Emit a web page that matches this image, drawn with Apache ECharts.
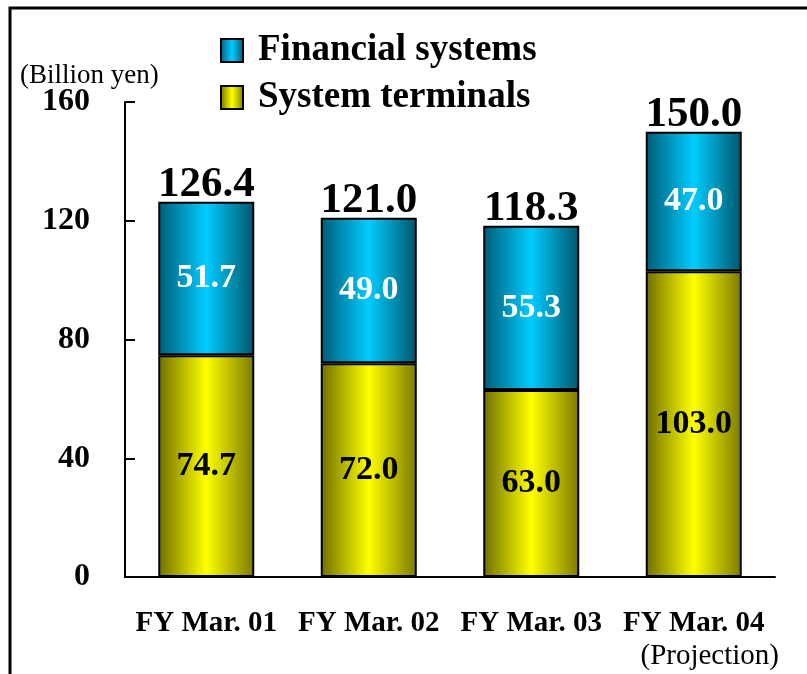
<!DOCTYPE html>
<html>
<head>
<meta charset="utf-8">
<script src="https://cdn.jsdelivr.net/npm/echarts@6/dist/echarts.min.js"></script>
<style>
html,body{margin:0;padding:0;background:#fff;}
#main{width:807px;height:674px;}
</style>
</head>
<body>
<div id="main"></div>
<script>
// data
var years = ['FY Mar. 01', 'FY Mar. 02', 'FY Mar. 03', 'FY Mar. 04'];
var terminals = [74.7, 72.0, 63.0, 103.0];   // System terminals
var financial = [51.7, 49.0, 55.3, 47.0];    // Financial systems
var totals = [126.4, 121.0, 118.3, 150.0];
var yTicks = [0, 40, 80, 120, 160];

var serif = '"Liberation Serif", "Times New Roman", serif';

// cylinder-like shading
var blueFill = new echarts.graphic.LinearGradient(0, 0, 1, 0, [
	{offset: 0, color: '#005b78'},
	{offset: 0.5, color: '#00ccff'},
	{offset: 1, color: '#00566a'}
]);
var yellowFill = new echarts.graphic.LinearGradient(0, 0, 1, 0, [
	{offset: 0, color: '#6e6e00'},
	{offset: 0.5, color: '#ffff00'},
	{offset: 1, color: '#7a7a00'}
]);

var chart = echarts.init(document.getElementById('main'));

var option = {
	animation: false,
	textStyle: {fontFamily: serif},
	title: {
		text: '(Billion yen)',
		left: 15,
		top: 57,
		textStyle: {fontFamily: serif, fontWeight: 'normal', fontSize: 27, color: '#000'}
	},
	legend: {
		orient: 'vertical',
		left: 215,
		top: 27,
		icon: 'rect',
		itemWidth: 22,
		itemHeight: 23,
		itemGap: 10,
		data: ['Financial systems', 'System terminals'],
		textStyle: {fontFamily: serif, fontWeight: 'bold', fontSize: 37, color: '#000', padding: [0, 0, 0, 10], lineHeight: 29}
	},
	graphic: [{
		type: 'polyline',
		shape: {points: [[10, 674], [10, 8], [807, 8]]},
		style: {stroke: '#000', lineWidth: 3, fill: null}
	}],
	grid: {left: 125, right: 32, top: 102, bottom: 97},
	xAxis: {
		type: 'category',
		data: years,
		axisLine: {lineStyle: {color: '#000', width: 2}},
		axisTick: {inside: true, length: 10, lineStyle: {color: '#000', width: 2}},
		axisLabel: {
			interval: 0,
			margin: 30,
			color: '#000',
			fontFamily: serif,
			fontWeight: 'bold',
			fontSize: 29,
			lineHeight: 34,
			formatter: function (v, i) {
				return i === 3 ? v + '\n{p|(Projection)}' : v;
			},
			rich: {
				p: {fontFamily: serif, fontWeight: 'normal', fontSize: 29, color: '#000', padding: [0, 0, 0, 32], lineHeight: 30}
			}
		}
	},
	yAxis: {
		type: 'value',
		min: 0,
		max: 160,
		interval: 40,
		axisLine: {show: true, lineStyle: {color: '#000', width: 2}},
		axisTick: {show: true, inside: true, length: 10, lineStyle: {color: '#000', width: 2}},
		splitLine: {show: false},
		axisLabel: {
			margin: 35,
			color: '#000',
			fontFamily: serif,
			fontWeight: 'bold',
			fontSize: 32,
			formatter: function (v) { return yTicks.indexOf(v) >= 0 ? v : ''; }
		}
	},
	series: [{
		name: 'System terminals',
		type: 'bar',
		stack: 'a',
		barWidth: 96,
		data: terminals,
		itemStyle: {color: yellowFill, borderColor: '#000', borderWidth: 2},
		label: {
			show: true, position: 'inside',
			fontFamily: serif, fontWeight: 'bold', fontSize: 34, color: '#000',
			formatter: function (p) { return p.value.toFixed(1); }
		}
	}, {
		name: 'Financial systems',
		type: 'bar',
		stack: 'a',
		barWidth: 96,
		data: financial,
		itemStyle: {color: blueFill, borderColor: '#000', borderWidth: 2},
		label: {
			show: true, position: 'inside',
			fontFamily: serif, fontWeight: 'bold', fontSize: 34, color: '#fff',
			formatter: function (p) { return p.value.toFixed(1); }
		}
	}, {
		name: 'total',
		type: 'scatter',
		data: totals,
		symbolSize: 0,
		silent: true,
		itemStyle: {opacity: 1},
		label: {
			show: true, position: 'top', distance: -5,
			fontFamily: serif, fontWeight: 'bold', fontSize: 43, color: '#000',
			formatter: function (p) { return p.value.toFixed(1); }
		}
	}]
};

chart.setOption(option);
</script>
</body>
</html>
